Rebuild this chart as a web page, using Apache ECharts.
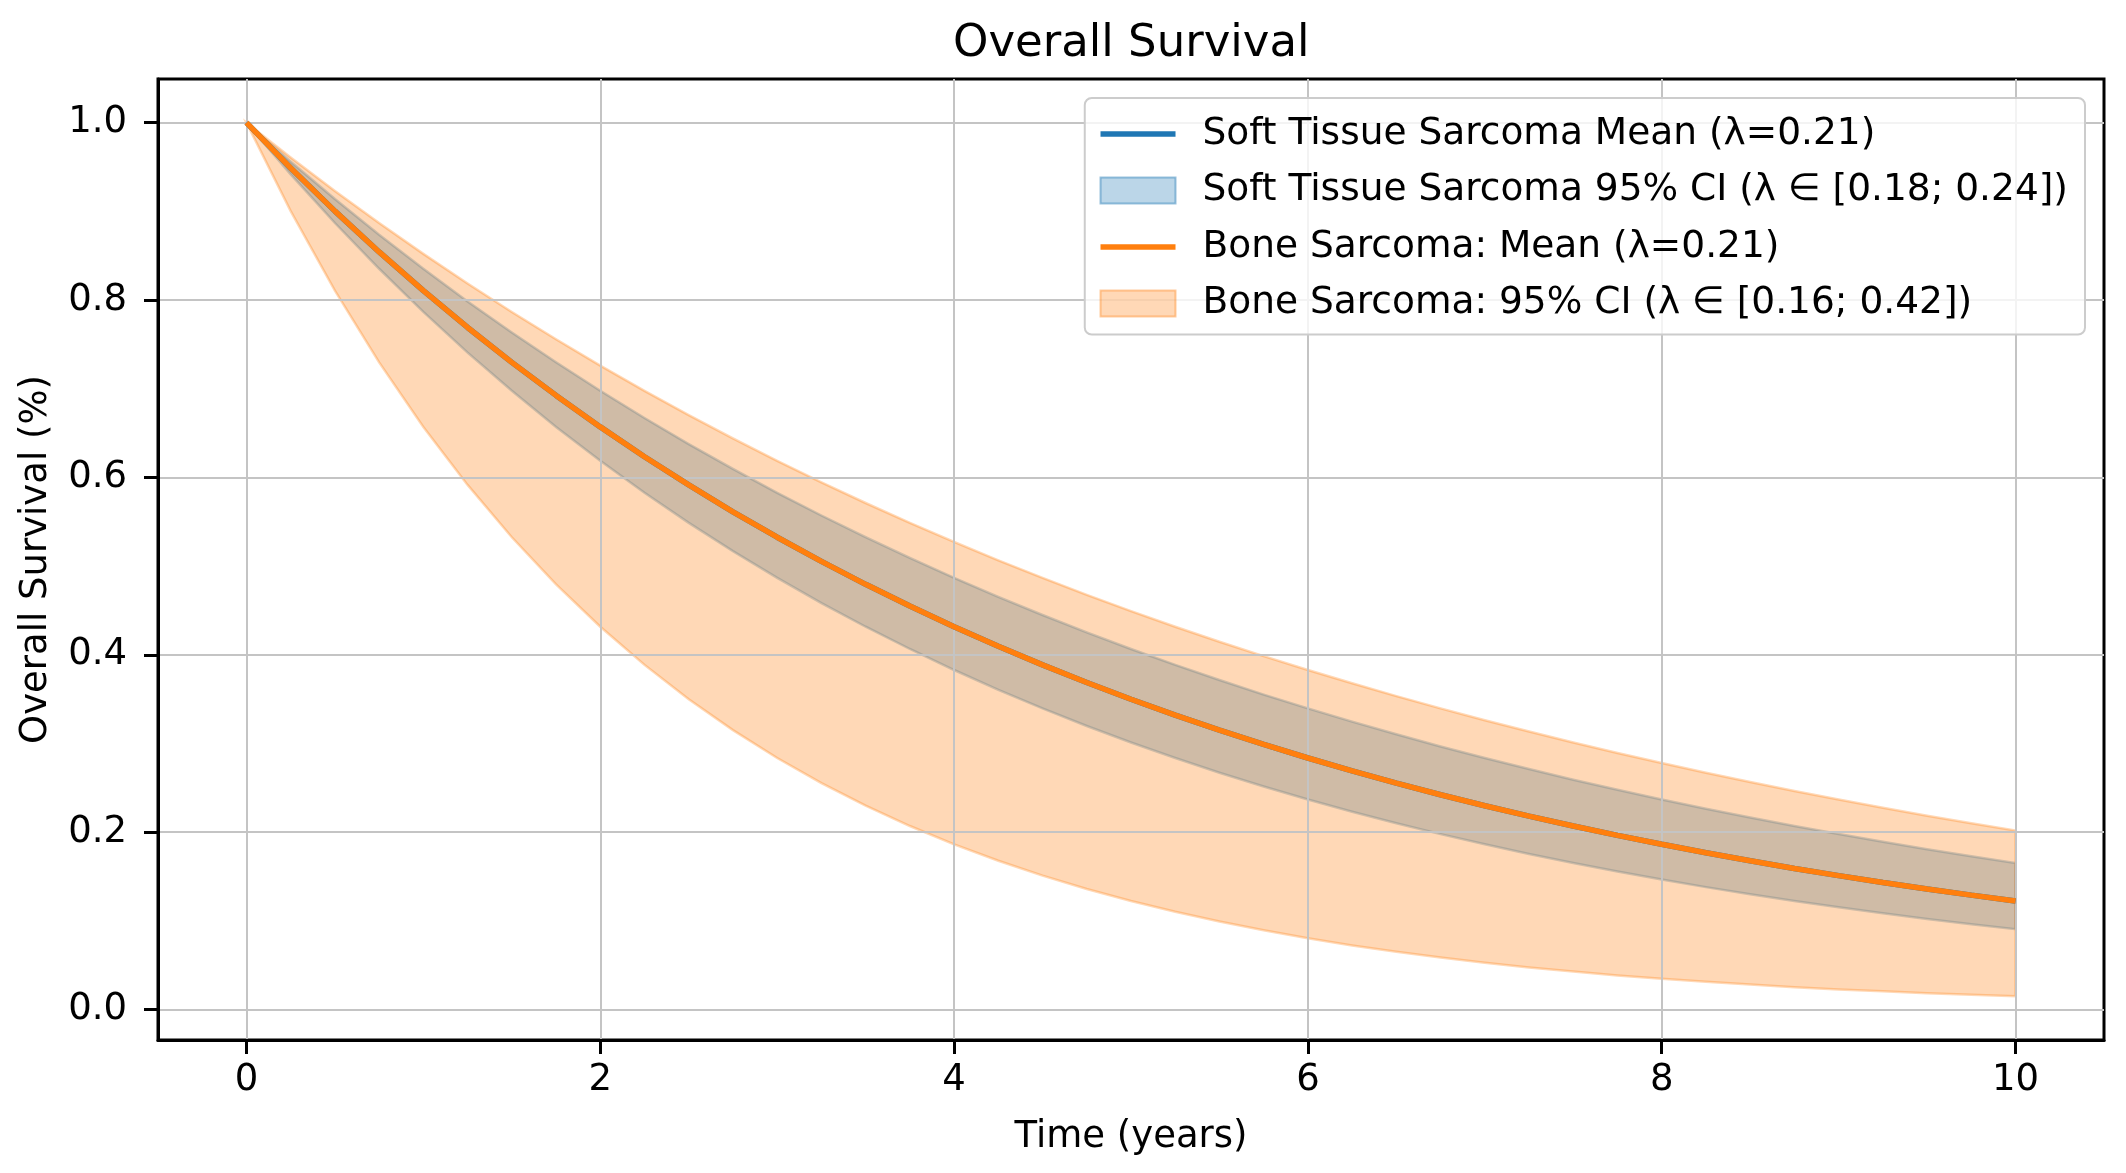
<!DOCTYPE html>
<html>
<head>
<meta charset="utf-8">
<script src="https://cdn.jsdelivr.net/npm/echarts@6/dist/echarts.min.js"></script>
<style>
html,body{margin:0;padding:0;background:#fff;}
#chart{width:2126px;height:1173px;}
</style>
</head>
<body>
<div id="chart"></div>
<script>
// ---- data ----
const years = [0,0.25,0.5,0.75,1,1.25,1.5,1.75,2,2.25,2.5,2.75,3,3.25,3.5,3.75,4,4.25,4.5,4.75,5,5.25,5.5,5.75,6,6.25,6.5,6.75,7,7.25,7.5,7.75,8,8.25,8.5,8.75,9,9.25,9.5,9.75,10];
const softMean = [1.000,0.9489,0.9003,0.8543,0.8106,0.7691,0.7298,0.6925,0.6570,0.6234,0.5916,0.5613,0.5326,0.5054,0.4795,0.4550,0.4317,0.4096,0.3887,0.3688,0.3499,0.3320,0.3151,0.2990,0.2837,0.2691,0.2554,0.2423,0.2299,0.2182,0.2070,0.1964,0.1864,0.1768,0.1678,0.1592,0.1511,0.1433,0.1360,0.1291,0.1225];
const softHigh = [1.000,0.9560,0.9139,0.8737,0.8353,0.7985,0.7634,0.7298,0.6977,0.6670,0.6376,0.6096,0.5827,0.5571,0.5326,0.5092,0.4868,0.4653,0.4449,0.4253,0.4066,0.3887,0.3716,0.3552,0.3396,0.3247,0.3104,0.2967,0.2837,0.2712,0.2592,0.2478,0.2369,0.2265,0.2165,0.2070,0.1979,0.1892,0.1809,0.1729,0.1653];
const softLow = [1.000,0.9418,0.8869,0.8353,0.7866,0.7408,0.6977,0.6570,0.6188,0.5827,0.5488,0.5169,0.4868,0.4584,0.4317,0.4066,0.3829,0.3606,0.3396,0.3198,0.3012,0.2837,0.2671,0.2516,0.2369,0.2231,0.2101,0.1979,0.1864,0.1755,0.1653,0.1557,0.1466,0.1381,0.1300,0.1225,0.1153,0.1086,0.1023,0.0963,0.0907];
const boneMean = [1.000,0.9489,0.9003,0.8543,0.8106,0.7691,0.7298,0.6925,0.6570,0.6234,0.5916,0.5613,0.5326,0.5054,0.4795,0.4550,0.4317,0.4096,0.3887,0.3688,0.3499,0.3320,0.3151,0.2990,0.2837,0.2691,0.2554,0.2423,0.2299,0.2182,0.2070,0.1964,0.1864,0.1768,0.1678,0.1592,0.1511,0.1433,0.1360,0.1291,0.1225];
const boneHigh = [1.000,0.9608,0.9231,0.8869,0.8521,0.8187,0.7866,0.7558,0.7261,0.6977,0.6703,0.6440,0.6188,0.5945,0.5712,0.5488,0.5273,0.5066,0.4868,0.4677,0.4493,0.4317,0.4148,0.3985,0.3829,0.3679,0.3535,0.3396,0.3263,0.3135,0.3012,0.2894,0.2780,0.2671,0.2567,0.2466,0.2369,0.2276,0.2187,0.2101,0.2019];
const boneLow = [1.000,0.9003,0.8106,0.7298,0.6570,0.5916,0.5326,0.4795,0.4317,0.3887,0.3499,0.3151,0.2837,0.2554,0.2299,0.2070,0.1864,0.1678,0.1511,0.1360,0.1225,0.1103,0.0993,0.0894,0.0805,0.0724,0.0652,0.0587,0.0529,0.0476,0.0429,0.0386,0.0347,0.0313,0.0282,0.0253,0.0228,0.0206,0.0185,0.0167,0.0150];
const xTickValues = [0,2,4,6,8,10];
const yTickValues = [0,0.2,0.4,0.6,0.8,1.0];
const seriesNames = [
  'Soft Tissue Sarcoma Mean (λ=0.21)',
  'Soft Tissue Sarcoma 95% CI (λ ∈ [0.18; 0.24])',
  'Bone Sarcoma: Mean (λ=0.21)',
  'Bone Sarcoma: 95% CI (λ ∈ [0.16; 0.42])'
];
const titleText = 'Overall Survival';
const xName = 'Time (years)';
const yName = 'Overall Survival (%)';

// ---- styles ----
const FONT = 'DejaVu Sans';
const C0 = '#1f77b4', C1 = '#ff7f0e';
const C0fill = 'rgba(31,119,180,0.3)', C1fill = 'rgba(255,127,14,0.3)';

function bandRenderer(low, high, fill, edge) {
  return function (params, api) {
    if (params.dataIndex !== 0) return null;
    const pts = [];
    for (let i = 0; i < years.length; i++) pts.push(api.coord([years[i], high[i]]));
    for (let i = years.length - 1; i >= 0; i--) pts.push(api.coord([years[i], low[i]]));
    return { type: 'polygon', shape: { points: pts }, style: { fill: fill, stroke: edge, lineWidth: 2.5 } };
  };
}

const chart = echarts.init(document.getElementById('chart'), null, { renderer: 'canvas' });
const axisCommon = {
  type: 'value',
  axisLine: { show: true, onZero: false, lineStyle: { color: '#000', width: 3 } },
  axisTick: { show: true, inside: false, length: 14, lineStyle: { color: '#000', width: 3 } },
  splitLine: { show: true, lineStyle: { color: '#c4c4c4', width: 2 } },
  nameLocation: 'middle',
  nameTextStyle: { fontSize: 37, color: '#000', fontFamily: FONT }
};
chart.setOption({
  animation: false,
  backgroundColor: '#fff',
  title: {
    text: titleText, left: 953, top: 22, padding: 0,
    textStyle: { fontSize: 45, fontWeight: 'normal', color: '#000', fontFamily: FONT }
  },
  grid: {
    left: 158, right: 22, top: 79, bottom: 133,
    show: true, borderColor: '#000', borderWidth: 3, backgroundColor: 'transparent'
  },
  xAxis: Object.assign({}, axisCommon, {
    min: -0.5, max: 10.5, name: xName, nameGap: 79,
    axisTick: Object.assign({}, axisCommon.axisTick, { customValues: xTickValues }),
    axisLabel: { customValues: xTickValues, fontSize: 37, color: '#000', fontFamily: FONT, margin: 22, formatter: v => String(v) }
  }),
  yAxis: Object.assign({}, axisCommon, {
    min: -0.03425, max: 1.04925, name: yName, nameGap: 103,
    axisTick: Object.assign({}, axisCommon.axisTick, { customValues: yTickValues }),
    axisLabel: { customValues: yTickValues, fontSize: 37, color: '#000', fontFamily: FONT, margin: 31, formatter: v => v.toFixed(1) }
  }),
  legend: {
    orient: 'vertical', right: 41, top: 98,
    data: [
      { name: seriesNames[0], itemStyle: { opacity: 0 } },
      { name: seriesNames[1], icon: 'rect', itemStyle: { color: C0fill, borderColor: 'rgba(31,119,180,0.45)', borderWidth: 2 } },
      { name: seriesNames[2], itemStyle: { opacity: 0 } },
      { name: seriesNames[3], icon: 'rect', itemStyle: { color: C1fill, borderColor: 'rgba(255,127,14,0.4)', borderWidth: 2 } }
    ],
    itemWidth: 75, itemHeight: 26, itemGap: 18.5,
    padding: [17, 17, 12, 13],
    lineStyle: { width: 5.5 },
    backgroundColor: 'rgba(255,255,255,0.8)', borderColor: '#cccccc', borderWidth: 2, borderRadius: 7,
    textStyle: { fontSize: 37.5, color: '#000', fontFamily: FONT, padding: [0, 0, 0, 22] },
    selectedMode: false
  },
  series: [
    {
      name: seriesNames[1], type: 'custom', z: -1, silent: true,
      itemStyle: { color: C0fill },
      encode: { x: 0, y: [1, 2] },
      data: years.map((t, i) => [t, softLow[i], softHigh[i]]),
      renderItem: bandRenderer(softLow, softHigh, C0fill, 'rgba(31,119,180,0.3)')
    },
    {
      name: seriesNames[3], type: 'custom', z: -1, silent: true,
      itemStyle: { color: C1fill },
      encode: { x: 0, y: [1, 2] },
      data: years.map((t, i) => [t, boneLow[i], boneHigh[i]]),
      renderItem: bandRenderer(boneLow, boneHigh, C1fill, 'rgba(255,127,14,0.3)')
    },
    {
      name: seriesNames[0], type: 'line', z: 3, symbol: 'none', showSymbol: false,
      lineStyle: { color: C0, width: 5.5 }, itemStyle: { color: C0 },
      data: years.map((t, i) => [t, softMean[i]])
    },
    {
      name: seriesNames[2], type: 'line', z: 4, symbol: 'none', showSymbol: false,
      lineStyle: { color: C1, width: 5.5 }, itemStyle: { color: C1 },
      data: years.map((t, i) => [t, boneMean[i]])
    }
  ]
});
</script>
</body>
</html>
